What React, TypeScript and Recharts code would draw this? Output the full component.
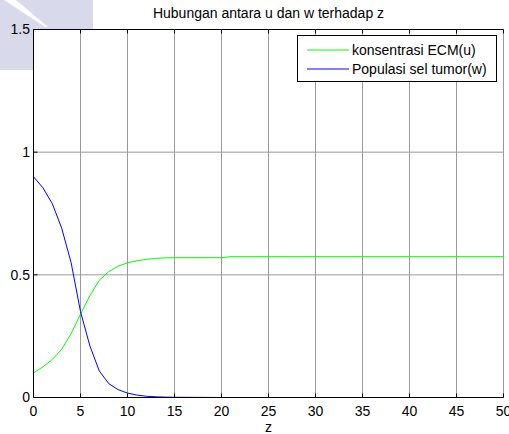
import React from 'react';
import { LineChart, Line, XAxis, YAxis, CartesianGrid, Legend, Label } from 'recharts';

const zValues = [0, 1, 2, 3, 4, 5, 6, 7, 8, 9, 10, 11, 12, 13, 14, 15, 20, 21, 25, 30, 35, 40, 45, 50];
const uValues = [0.10, 0.125, 0.155, 0.197, 0.26, 0.34, 0.415, 0.478, 0.513, 0.535, 0.549, 0.557, 0.563, 0.567, 0.569, 0.570, 0.570, 0.574, 0.574, 0.574, 0.574, 0.574, 0.574, 0.574];
const wValues = [0.90, 0.855, 0.79, 0.69, 0.55, 0.35, 0.21, 0.108, 0.057, 0.032, 0.018, 0.010, 0.005, 0.003, 0.0015, 0.001, 0, 0, 0, 0, 0, 0, 0, 0];
const xTicks = [0, 5, 10, 15, 20, 25, 30, 35, 40, 45, 50];
const yTicks = [0, 0.5, 1, 1.5];
const seriesNames = ['konsentrasi ECM(u)', 'Populasi sel tumor(w)'];
const seriesColors = ['#00ff00', '#0000ff'];
const titleText = 'Hubungan antara u dan w terhadap z';
const xLabelText = 'z';

const data = zValues.map((z, i) => ({ z, u: uValues[i], w: wValues[i] }));

const FONT = '"Liberation Sans", Arial, sans-serif';

const renderLegend = (props: any) => {
  const payload = [...(props.payload || [])].sort(
    (a: any, b: any) => seriesNames.indexOf(a.value) - seriesNames.indexOf(b.value)
  );
  return (
    <div
      style={{
        position: 'relative',
        width: 200,
        height: 47,
        boxSizing: 'border-box',
        border: '1px solid #000',
        background: '#fff',
        fontFamily: FONT,
        fontSize: 14,
        color: '#000',
      }}
    >
      {payload.map((entry: any, i: number) => (
        <div
          key={i}
          style={{
            position: 'absolute',
            left: 9,
            top: i === 0 ? 5 : 24,
            height: 18,
            display: 'flex',
            alignItems: 'center',
            whiteSpace: 'nowrap',
          }}
        >
          <svg width={42} height={4} style={{ marginRight: 3 }}>
            <line x1={0} y1={2} x2={42} y2={2} stroke={entry.color} strokeWidth={1} />
          </svg>
          <span>{entry.value}</span>
        </div>
      ))}
    </div>
  );
};

export default function App() {
  return (
    <div style={{ position: 'absolute', left: 0, top: 0, width: 509, height: 434, background: '#fff' }}>
      <svg width={509} height={434} style={{ position: 'absolute', left: 0, top: 0 }}>
        <rect x={0} y={0} width={93} height={70} fill="#d8d9ea" />
        <polygon points="4,0 16,0 48,27 45,27" fill="#ffffff" />
      </svg>
      <div style={{ position: 'absolute', left: 0, top: 0 }}>
        <LineChart
          width={509}
          height={434}
          data={data}
          margin={{ top: 0, right: 5.5, bottom: 0, left: 0 }}
          style={{ fontFamily: FONT }}
        >
          <CartesianGrid stroke="#9a9a9a" fill="#ffffff" />
          <XAxis
            dataKey="z"
            type="number"
            domain={[0, 50]}
            ticks={xTicks}
            height={36.5}
            tickSize={-4}
            tickMargin={13}
            axisLine={{ stroke: '#000' }}
            tickLine={{ stroke: '#000' }}
            tick={{ fill: '#000', fontSize: 14 }}
            interval={0}
          >
            <Label value={xLabelText} position="insideBottom" offset={2} fill="#000" fontSize={14} />
          </XAxis>
          <XAxis
            xAxisId="top"
            dataKey="z"
            orientation="top"
            type="number"
            domain={[0, 50]}
            ticks={xTicks}
            height={29.5}
            tickSize={-4}
            tickFormatter={() => ''}
            axisLine={{ stroke: '#000' }}
            tickLine={{ stroke: '#000' }}
            interval={0}
          >
            <Label value={titleText} position="insideTop" offset={8} fill="#000" fontSize={14} />
          </XAxis>
          <YAxis
            type="number"
            domain={[0, 1.5]}
            ticks={yTicks}
            width={33.5}
            tickSize={-4}
            tickMargin={7.5}
            axisLine={{ stroke: '#000' }}
            tickLine={{ stroke: '#000' }}
            tick={{ fill: '#000', fontSize: 14 }}
            interval={0}
          />
          <YAxis
            yAxisId="right"
            orientation="right"
            type="number"
            domain={[0, 1.5]}
            ticks={yTicks}
            width={0}
            tickSize={-4}
            tickFormatter={() => ''}
            axisLine={{ stroke: '#000' }}
            tickLine={{ stroke: '#000' }}
            interval={0}
          />
          <Legend
            layout="vertical"
            align="center"
            verticalAlign="middle"
            content={renderLegend}
            wrapperStyle={{ left: 297, top: 35, width: 200, height: 47 }}
          />
          <Line
            type="linear"
            dataKey="u"
            name={seriesNames[0]}
            stroke={seriesColors[0]}
            strokeWidth={1}
            dot={false}
            isAnimationActive={false}
          />
          <Line
            type="linear"
            dataKey="w"
            name={seriesNames[1]}
            stroke={seriesColors[1]}
            strokeWidth={1}
            dot={false}
            isAnimationActive={false}
          />
        </LineChart>
      </div>
    </div>
  );
}
